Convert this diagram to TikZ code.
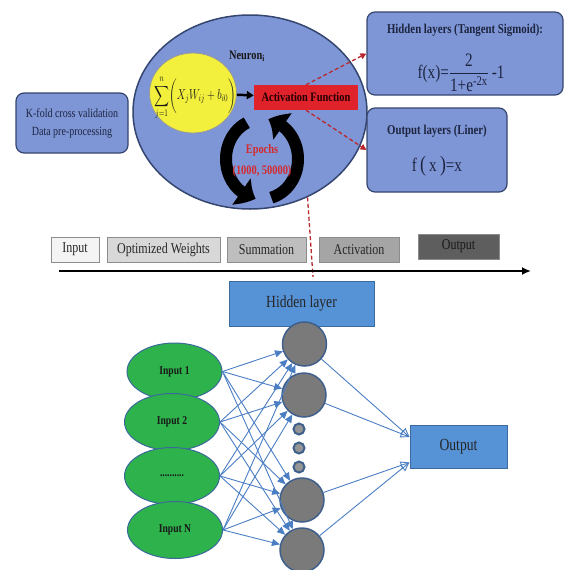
\documentclass[tikz,border=0pt]{standalone}
\usepackage{fontspec}
\setmainfont{Liberation Serif}[FakeStretch=0.8]
\usepackage{amsmath}
\usepackage{graphicx}
\usetikzlibrary{positioning}
\usetikzlibrary{arrows.meta}
\usetikzlibrary{bending}
\usetikzlibrary{shapes}
\definecolor{panelbg}{HTML}{7F96D6}
\definecolor{panelfg}{HTML}{34466F}
\definecolor{textfg}{HTML}{1C2440}
\definecolor{actred}{HTML}{E0222B}
\definecolor{sumyel}{HTML}{F2F03C}
\definecolor{epred}{HTML}{D42A2E}
\definecolor{dashred}{HTML}{B8282C}
\definecolor{layerbg}{HTML}{5592D6}
\definecolor{layerfg}{HTML}{3C6A9E}
\definecolor{inbg}{HTML}{2DB24C}
\definecolor{infg}{HTML}{3A6A9A}
\definecolor{neubg}{HTML}{7A7A7A}
\definecolor{neufg}{HTML}{3F5F8C}
\definecolor{wire}{HTML}{4A7EC4}
\definecolor{tla}{HTML}{F4F4F4}
\definecolor{tlb}{HTML}{D8D8D8}
\definecolor{tlc}{HTML}{BEBEBE}
\definecolor{tld}{HTML}{A5A5A5}
\definecolor{tle}{HTML}{5E5E5E}

\begin{document}
\begin{tikzpicture}[x=1pt, y=-1pt, text=textfg,
    panel/.style = {draw=panelfg, fill=panelbg, line width=1.2pt, rectangle, rounded corners=8pt},
    ptitle/.style = {font=\bfseries\fontsize{13.5}{16}\selectfont},
    tl/.style = {draw=black!45, fill=tla, line width=0.8pt, rectangle, inner sep=0pt, minimum height=25pt, text=black!85, font=\fontsize{15}{18}\selectfont},
    layer/.style = {draw=layerfg, fill=layerbg, line width=1pt, rectangle, text=black!85, font=\fontsize{17}{20}\selectfont},
    inp/.style = {draw=infg, fill=inbg, line width=1pt, ellipse, inner sep=0pt, minimum width=95pt, minimum height=57pt, text=black!90, font=\bfseries\fontsize{12}{14}\selectfont},
    neu/.style = {draw=neufg, fill=neubg, line width=1.5pt, circle, inner sep=0pt, minimum size=44pt},
    dot/.style = {draw=neufg, fill=neubg!80, line width=2pt, circle, inner sep=0pt, minimum size=11pt},
    wire/.style = {draw=wire, line width=0.9pt, -{Triangle[length=8pt, width=7pt]}},
    owire/.style = {draw=wire, line width=0.9pt, -{Triangle[open, length=9pt, width=8pt]}},
    reddash/.style = {draw=dashred, line width=1.3pt, dash pattern=on 4pt off 2.5pt},
    loopar/.style = {draw=black, line width=12pt, -{Triangle[bend, length=16pt, width=31pt]}}]

\useasboundingbox (0,0) rectangle (565,570);

\node[panel, minimum width=112pt, minimum height=60pt, align=center, font=\fontsize{12.5}{18}\selectfont] (kf) at (72,123) {K-fold cross validation\\Data pre-processing};

\node[ellipse, draw=panelfg, fill=panelbg, line width=1.5pt, inner sep=0pt, minimum width=234pt, minimum height=194pt] (cell) at (250,112) {};
\node[font=\bfseries\fontsize{13}{15}\selectfont, text=black!90] (cellt) at (247,56) {Neuron\textsubscript{i}};
\node[ellipse, draw=black!40, fill=sumyel, line width=0.8pt, inner sep=0pt, minimum width=87pt, minimum height=80pt] (sum) at (193,93) {};
\node[text=black!90, font=\fontsize{14}{16}\selectfont] (sumf) at (195,98) {\scalebox{0.72}[1]{$\displaystyle\sum_{j=1}^{n}\biggl(X_j W_{ij}+b_{i0}\biggr)$}};
\node[fill=actred, rectangle, inner sep=0pt, minimum width=104pt, minimum height=25pt, text=black!85!red, font=\bfseries\fontsize{13}{15}\selectfont] (act) at (306,97.5) {Activation Function};
\draw[line width=2.5pt, -{Triangle[length=7pt, width=8pt]}] (sum) -- (act);

\coordinate (ep) at (262,159);
\draw[loopar] ([shift={(245:36 and 40)}]ep) arc[start angle=245, end angle=100, x radius=36, y radius=40];
\draw[loopar] ([shift={(75:36 and 40)}]ep) arc[start angle=75, end angle=-80, x radius=36, y radius=40];
\node[align=center, text=epred, font=\bfseries\fontsize{13}{21}\selectfont] (ept) at (262,161) {Epochs\\(1000, 50000)};

\node[panel, minimum width=196pt, minimum height=83pt] (hid) at (465,53.5) {};
\node[ptitle] (hidt) at (465,30) {Hidden layers (Tangent Sigmoid):};
\node[font=\fontsize{19}{22}\selectfont] (hidf) at (461,73) {$\text{f(x)=}\dfrac{\text{2}}{\text{1+e}^{\text{-2x}}}\,\text{-1}$};

\node[panel, minimum width=140pt, minimum height=84pt] (outl) at (437,150) {};
\node[ptitle] (outlt) at (437,131) {Output layers (Liner)};
\node[font=\fontsize{19}{22}\selectfont] (outlf) at (437,166) {f\,{\fontsize{22}{22}\selectfont(}\,x\,{\fontsize{22}{22}\selectfont)}=x};

\draw[reddash, -{Triangle[length=6pt, width=6pt]}] (act.north) -- (hid.west);
\draw[reddash, -{Triangle[length=6pt, width=6pt]}] (act.south) -- (outl.west);

\coordinate (hlink) at (313,277);
\draw[reddash] (cell.-56) -- (hlink);

\node[tl, minimum width=48pt] (tin) at (75,249.5) {Input};
\node[tl, fill=tlb, minimum width=113pt] (tow) at (163.5,249.5) {Optimized Weights};
\node[tl, fill=tlc, minimum width=79pt] (tsu) at (266.5,249.5) {Summation};
\node[tl, fill=tld, minimum width=80pt] (tac) at (359,249.5) {Activation};
\node[tl, fill=tle, minimum width=81pt, text=black!90] (tou) at (458.5,246.5) {Output};

\coordinate (ax0) at (59,271);
\coordinate (ax1) at (531,271);
\draw[line width=2.5pt, -{Latex[length=9pt, width=8pt]}] (ax0) -- (ax1);

\node[layer, minimum width=145pt, minimum height=45pt] (hl) at (301.5,303.5) {Hidden layer};

\node[inp] (in1) at (174.5,371.5) {Input 1};
\node[inp] (in2) at (172,422) {Input 2};
\node[inp] (in3) at (172,476) {..........};
\node[inp] (in4) at (175,530) {Input N};

\node[neu] (h1) at (304.5,344) {};
\node[neu] (h2) at (304,395) {};
\node[dot] (s1) at (299,429) {};
\node[dot, below=6pt of s1] (s2) {};
\node[dot, below=6pt of s2] (s3) {};
\node[neu] (h3) at (302,500) {};
\node[neu] (h4) at (302,550) {};

\node[layer, minimum width=97pt, minimum height=43pt] (out) at (458.5,446.5) {Output};

\draw[wire] (in1.east) -- (h1);
\draw[wire] (in1.east) -- (h2);
\draw[wire] (in1.east) -- (h3);
\draw[wire] (in1.east) -- (h4);
\draw[wire] (in2.east) -- (h1);
\draw[wire] (in2.east) -- (h2);
\draw[wire] (in2.east) -- (h3);
\draw[wire] (in2.east) -- (h4);
\draw[wire] (in3.east) -- (h1);
\draw[wire] (in3.east) -- (h2);
\draw[wire] (in3.east) -- (h3);
\draw[wire] (in3.east) -- (h4);
\draw[wire] (in4.east) -- (h1);
\draw[wire] (in4.east) -- (h2);
\draw[wire] (in4.east) -- (h3);
\draw[wire] (in4.east) -- (h4);

\draw[owire] (h1) -- (out.169);
\draw[owire] (h2) -- (out.169);
\draw[owire] (h3) -- (out.198);
\draw[owire] (h4) -- (out.198);

\end{tikzpicture}
\end{document}
